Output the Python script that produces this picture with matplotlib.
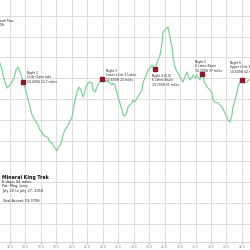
import matplotlib
matplotlib.use("Agg")
import matplotlib.pyplot as plt

miles = [10.71, 10.97, 11.36, 11.62, 12.00, 12.26, 12.52, 12.78, 13.04, 13.30, 13.55, 13.68,
         13.94, 14.20, 14.59, 14.85, 15.24, 15.62, 15.88, 16.14, 16.27, 16.79, 16.92, 17.18,
         17.43, 17.56, 17.82, 18.08, 18.21, 18.47, 18.73, 18.86, 19.11, 19.37, 19.50, 20.02,
         20.41, 20.67, 20.92, 21.18, 21.44, 21.57, 21.83, 22.09, 22.35, 22.61, 22.73, 22.99,
         23.25, 23.51, 23.77, 23.90, 24.16, 24.42, 24.55, 24.93, 25.19, 25.32, 25.58, 25.84,
         25.97, 26.23, 26.48, 26.61, 26.87, 27.13, 27.26, 27.52, 27.78, 27.91, 28.17, 28.42,
         28.55, 28.81, 29.07, 29.20, 29.46, 29.72, 29.85, 30.11, 30.37, 30.49, 30.69, 31.01,
         31.14, 31.40, 31.53, 31.66, 31.79, 32.04, 32.30, 32.43, 32.69, 32.95, 33.08, 33.34,
         33.60, 33.73, 33.98, 34.24, 34.37, 34.63, 34.89, 35.02, 35.28, 35.54, 35.67, 35.92,
         36.18, 36.31, 36.57, 36.77, 36.83, 36.96, 37.09, 37.22, 37.48, 37.61, 37.86, 38.12,
         38.25, 38.51, 38.90, 39.42, 39.80, 40.06, 40.19, 40.45, 40.58, 40.71, 40.84, 41.10,
         41.35, 41.48, 41.74, 42.00, 42.13, 42.39, 42.65, 42.78, 43.04]
elev_ft = [11731, 11394, 10769, 10529, 10673, 10817, 11010, 11394, 11539, 11298, 11010, 10817,
           10529, 10192, 9615, 9231, 8990, 8750, 8510, 8413, 8269, 8173, 8125, 7933,
           7885, 7788, 7644, 7500, 7644, 7788, 8029, 8269, 8510, 8654, 8750, 9135,
           9952, 10337, 10577, 10433, 10096, 10192, 10577, 10769, 10817, 10769, 10433, 10337,
           10577, 10769, 10914, 10962, 10914, 10817, 10865, 10769, 10673, 10769, 10673, 10288,
           10096, 9808, 9471, 9231, 9180, 9375, 9615, 9712, 9808, 9952, 9856, 10048,
           10096, 10288, 10433, 10769, 11010, 11250, 11394, 11490, 11635, 11539, 11442, 11731,
           11875, 12115, 12356, 12692, 13221, 13317, 13414, 13462, 12981, 12500, 12019, 11539,
           11298, 11250, 11058, 10914, 10817, 11058, 11298, 11154, 10914, 11058, 11154, 11010,
           11154, 11058, 10914, 11298, 11202, 11250, 10817, 10769, 10577, 10529, 10433, 10288,
           9952, 9856, 9808, 9615, 9327, 9135, 8990, 8894, 9086, 9231, 9615, 9952,
           10288, 10577, 10817, 10914, 10817, 10769, 10817, 10914, 10914]

camp_miles = [13.68, 23.90, 30.69, 36.83, 42.00]
camp_elev = [10817, 10962, 11442, 11202, 10914]
camp_labels = ["Night 2\nLittle Claire lake\n10,400ft 12.7 miles",
               "Night 3\nLower Little 5 Lakes\n10,600ft 24 miles",
               "Night 4 (6.0)\n6 Lakes Basin\n10,700ft 31 miles",
               "Night 5\n6 Lakes Basin\n10,700ft 37 miles",
               "Night 6\nUpper Little 5 Lakes\n10,600ft 42 miles"]
label_pos = [(14.20, 11346), (24.42, 11442), (30.37, 11202), (35.92, 11875), (40.45, 11827)]

pass_label = "Sawtooth Pass\n11,620ft"
pass_pos = (9.67, 13846)

title = "Mineral King Trek"
info = "8 days: 56 miles\nPat, Meg, Jerry\nJuly 20 to July 27, 2018\n\nTotal Ascent 19,370ft"

xticks = [12, 14, 16, 18, 20, 22, 24, 26, 28, 30, 32, 34, 36, 38, 40, 42]
yticks = [4000, 5000, 6000, 7000, 8000, 9000, 10000, 11000, 12000, 13000, 14000]

fig = plt.figure(figsize=(2.5, 2.5), dpi=100)
ax = fig.add_axes([0, 0.032, 1, 0.968])
ax.set_xlim(10.71, 43.04)
ax.set_ylim(3125, 14760)
ax.set_xticks(xticks)
ax.set_xticklabels(["%.1f" % t for t in xticks])
ax.set_yticks(yticks)
ax.set_yticklabels([])
ax.grid(True, color="#dddddd", linewidth=0.7)
ax.set_axisbelow(True)
for s in ["top", "left", "right"]:
    ax.spines[s].set_visible(False)
ax.spines["bottom"].set_color("#cccccc")
ax.spines["bottom"].set_linewidth(0.6)
ax.tick_params(axis="x", labelsize=2.2, colors="#888888", length=1.5, width=0.4, pad=1)
ax.tick_params(axis="y", length=0)

ax.plot(miles, elev_ft, color="#7fd39a", linewidth=0.9)
ax.plot(camp_miles, camp_elev, "s", color="#8b1a2b", markersize=2.2)
for lab, (lx, ly) in zip(camp_labels, label_pos):
    ax.text(lx, ly, lab, fontsize=2.2, va="top", ha="left", color="#222222", linespacing=1.1)
ax.text(pass_pos[0], pass_pos[1], pass_label, fontsize=2.2, va="top", ha="left",
        color="#222222", linespacing=1.1, clip_on=False)

fig.text(0.008, 0.302, title, fontsize=3.4, fontweight="bold", va="top", ha="left", color="#111111")
fig.text(0.008, 0.282, info, fontsize=2.5, va="top", ha="left", color="#222222", linespacing=1.25)

fig.savefig("out.png", dpi=100, facecolor="white")
